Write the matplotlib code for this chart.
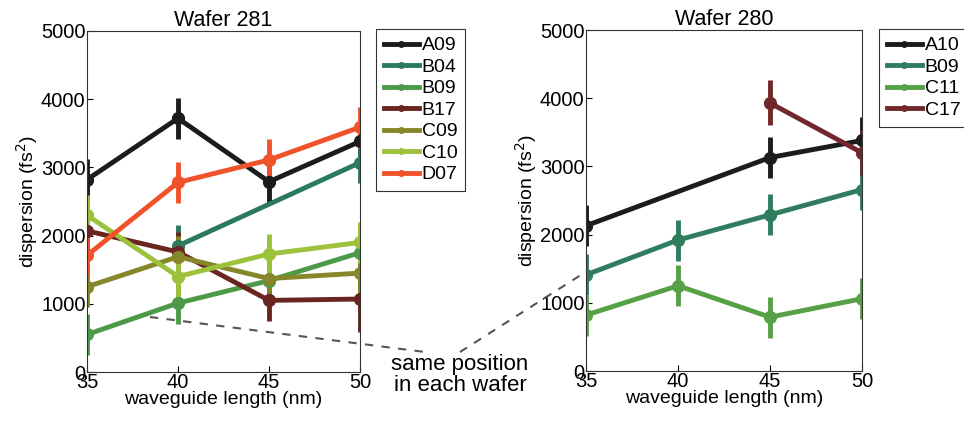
import matplotlib
matplotlib.use("Agg")
import matplotlib.pyplot as plt
from matplotlib.lines import Line2D
import numpy as np

plt.rcParams['font.family'] = ['Liberation Sans', 'DejaVu Sans']

lengths = [35, 40, 45, 50]

# Wafer 281
w281_labels = ["A09", "B04", "B09", "B17", "C09", "C10", "D07"]
w281_values = {
    "A09": [2820, 3720, 2790, 3380],
    "B04": [np.nan, 1850, np.nan, 3070],
    "B09": [550, 1010, 1340, 1750],
    "B17": [2070, 1760, 1050, 1070],
    "C09": [1250, 1690, 1370, 1450],
    "C10": [2300, 1400, 1730, 1900],
    "D07": [1710, 2780, 3110, 3590],
}
w281_errors = {
    "A09": [300, 300, 320, 300],
    "B04": [0, 300, 0, 300],
    "B09": [300, 300, 300, 300],
    "B17": [300, 300, 300, 480],
    "C09": [300, 300, 300, 300],
    "C10": [300, 300, 300, 300],
    "D07": [300, 300, 300, 300],
}

# Wafer 280
w280_labels = ["A10", "B09", "C11", "C17"]
w280_values = {
    "A10": [2130, np.nan, 3130, 3380],
    "B09": [1410, 1920, 2290, 2660],
    "C11": [820, 1250, 790, 1060],
    "C17": [np.nan, np.nan, 3930, 3200],
}
w280_errors = {
    "A10": [300, 0, 300, 350],
    "B09": [300, 300, 300, 300],
    "C11": [300, 300, 300, 300],
    "C17": [0, 0, 330, 330],
}

colors = {
    "A09": "#1c1c1c", "B04": "#2b7a5c", "B09": "#4c9a47", "B17": "#6b2520",
    "C09": "#86862a", "C10": "#9cc23c", "D07": "#f0522a",
    "A10": "#1c1c1c", "B09r": "#2f7d5e", "C11": "#56a045", "C17": "#72272a",
}

fig = plt.figure(figsize=(9.64, 4.23), dpi=100)
ax1 = fig.add_axes([87/964, 51/423, 273/964, 341/423])
ax2 = fig.add_axes([586/964, 52/423, 276/964, 341/423])


def draw(ax, labels, values, errors, keymap):
    handles = []
    for lab in labels:
        c = colors[keymap.get(lab, lab)]
        y = np.array(values[lab], dtype=float)
        e = np.array(errors[lab], dtype=float)
        x = np.array(lengths, dtype=float)
        m = ~np.isnan(y)
        ax.errorbar(x[m], y[m], yerr=e[m], fmt='-o', color=c, lw=3.5,
                    elinewidth=3.5, capsize=0, ms=8.5, mfc=c, mec=c)
        handles.append(Line2D([0], [0], color=c, lw=3.5, marker='o', ms=4))
    ax.set_xlim(35, 50)
    ax.set_ylim(0, 5000)
    ax.set_xticks(lengths)
    ax.set_yticks([0, 1000, 2000, 3000, 4000, 5000])
    ax.tick_params(labelsize=14.5, direction='in', length=4, pad=1)
    ax.set_xlabel("waveguide length (nm)", fontsize=14, labelpad=-1)
    ax.set_ylabel("dispersion (fs$^2$)", fontsize=14, labelpad=1)
    for s in ax.spines.values():
        s.set_linewidth(0.8)
        s.set_color('#333333')
    return handles


h1 = draw(ax1, w281_labels, w281_values, w281_errors, {})
ax1.set_title("Wafer 281", fontsize=15.5, pad=3)
h2 = draw(ax2, w280_labels, w280_values, w280_errors, {"B09": "B09r"})
ax2.set_title("Wafer 280", fontsize=15.5, pad=3)

legkw = dict(loc='upper left', fontsize=14, handlelength=1.8,
             handletextpad=0.15, labelspacing=0.2, borderpad=0.4,
             fancybox=False, edgecolor='#333333', framealpha=1,
             borderaxespad=0)
leg1 = fig.legend(h1, w281_labels, bbox_to_anchor=(376/964, 1 - 29/423), **legkw)
leg1.get_frame().set_linewidth(0.8)
leg2 = fig.legend(h2, w280_labels, bbox_to_anchor=(879/964, 1 - 29/423), **legkw)
leg2.get_frame().set_linewidth(0.8)


def fpt(x, y):
    return x / 964, 1 - y / 423


for (xa, ya), (xb, yb) in [((150, 317), (425, 352)), ((460, 352), (584, 273))]:
    p, q = fpt(xa, ya), fpt(xb, yb)
    fig.add_artist(Line2D([p[0], q[0]], [p[1], q[1]], transform=fig.transFigure,
                          color='#555555', lw=1.5, ls=(0, (4, 4))))

tx, ty = fpt(460, 375)
fig.text(tx, ty, "same position\nin each wafer", ha='center', va='center',
         fontsize=16, linespacing=0.95)

fig.savefig("out.png", dpi=100)
